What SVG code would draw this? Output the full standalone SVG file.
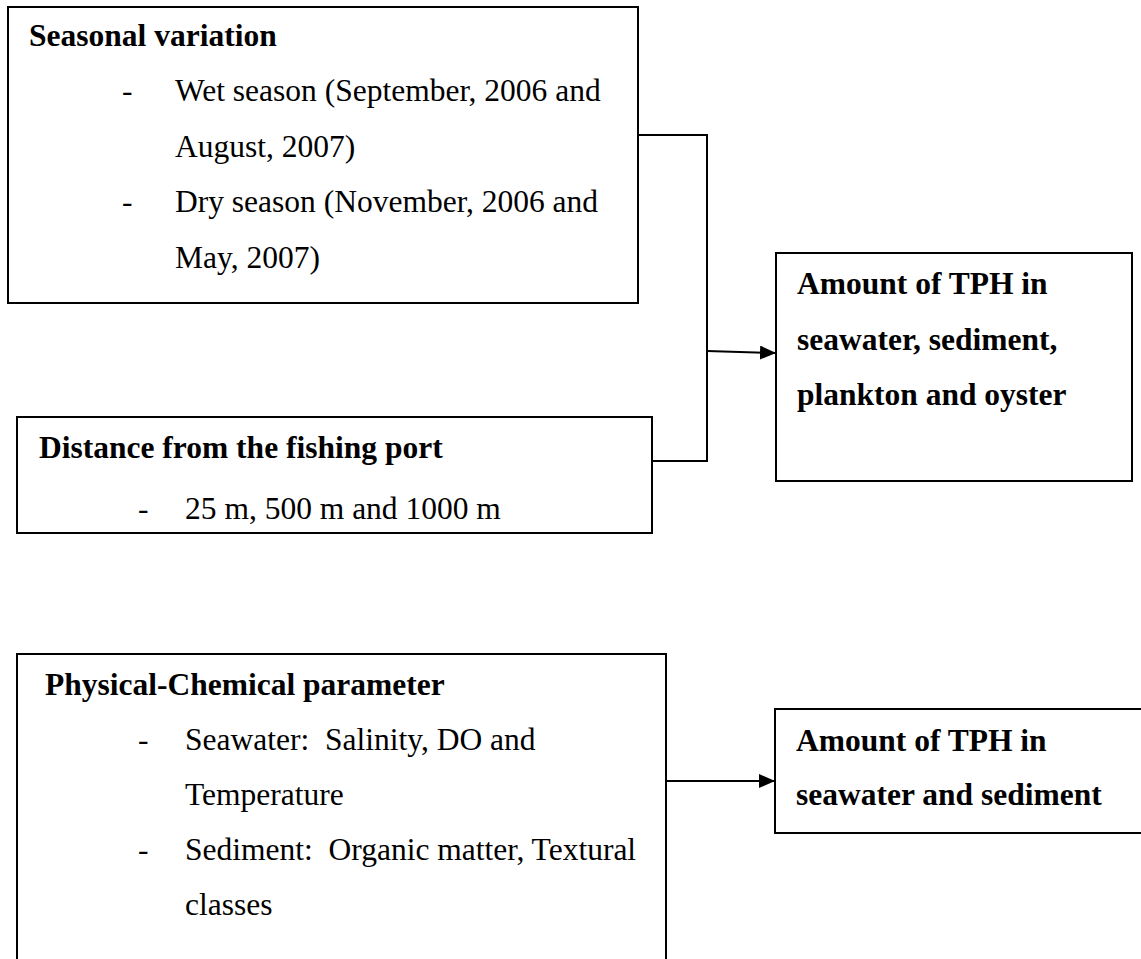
<svg xmlns="http://www.w3.org/2000/svg" width="1141" height="959" viewBox="0 0 1141 959">
<defs>
<style>
.box{fill:#fff;stroke:#000;stroke-width:2}
.t{font-family:"Liberation Serif","Times New Roman",serif;font-size:31.5px;fill:#000;white-space:pre}
.b{font-weight:bold}
.c{fill:none;stroke:#000;stroke-width:2}
</style>
<marker id="ah" viewBox="0 0 16 14" refX="16" refY="7" markerWidth="16" markerHeight="14" markerUnits="userSpaceOnUse" orient="auto">
<path d="M0,0 L16,7 L0,14 Z" fill="#000"/>
</marker>
</defs>
<rect width="1141" height="959" fill="#fff"/>
<g id="connectors">
<polyline class="c" points="638,135 707,135 707,461 652,461"/>
<line class="c" x1="707" y1="351" x2="776" y2="353" marker-end="url(#ah)"/>
<line class="c" x1="666" y1="781" x2="775" y2="781" marker-end="url(#ah)"/>
</g>
<g id="seasonal">
<rect class="box" x="8" y="7" width="630" height="296"/>
<text class="t b" x="29" y="46">Seasonal variation</text>
<text class="t" x="122" y="101">-</text>
<text class="t" x="175" y="101">Wet season (September, 2006 and</text>
<text class="t" x="175" y="157">August, 2007)</text>
<text class="t" x="122" y="212">-</text>
<text class="t" x="175" y="212">Dry season (November, 2006 and</text>
<text class="t" x="175" y="268">May, 2007)</text>
</g>
<g id="distance">
<rect class="box" x="17" y="417" width="635" height="116"/>
<text class="t b" x="39" y="458">Distance from the fishing port</text>
<text class="t" x="138" y="519">-</text>
<text class="t" x="185" y="519">25 m, 500 m and 1000 m</text>
</g>
<g id="tph1">
<rect class="box" x="776" y="253" width="356" height="228"/>
<text class="t b" x="797" y="294">Amount of TPH in</text>
<text class="t b" x="797" y="350">seawater, sediment,</text>
<text class="t b" x="797" y="405">plankton and oyster</text>
</g>
<g id="physchem">
<rect class="box" x="17" y="654" width="649" height="320"/>
<text class="t b" x="45" y="695">Physical-Chemical parameter</text>
<text class="t" x="138" y="750">-</text>
<text class="t" x="185" y="750" xml:space="preserve">Seawater:  Salinity, DO and</text>
<text class="t" x="185" y="805">Temperature</text>
<text class="t" x="138" y="860">-</text>
<text class="t" x="185" y="860" xml:space="preserve">Sediment:  Organic matter, Textural</text>
<text class="t" x="185" y="915">classes</text>
</g>
<g id="tph2">
<rect class="box" x="775" y="709" width="380" height="124"/>
<text class="t b" x="796" y="751">Amount of TPH in</text>
<text class="t b" x="796" y="805">seawater and sediment</text>
</g>
</svg>
